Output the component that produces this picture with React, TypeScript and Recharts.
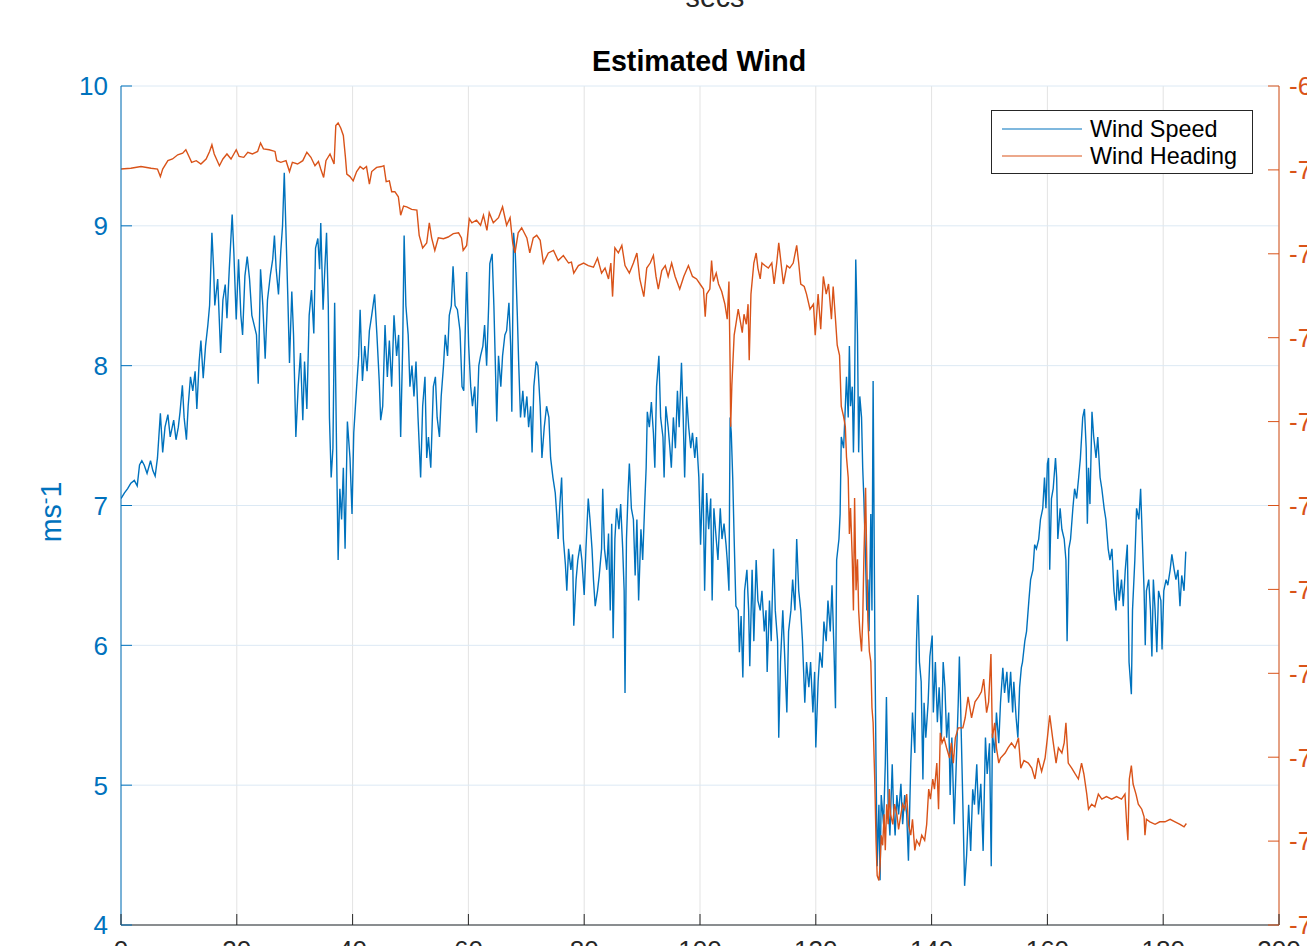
import React from 'react';
import { LineChart, Line, XAxis, YAxis, CartesianGrid, Legend } from 'recharts';

const FONT = '"Liberation Sans", Arial, Helvetica, sans-serif';
const BLUE = '#0072BD';
const ORANGE = '#D95319';
const DARK = '#262626';

const xTicks = [0, 20, 40, 60, 80, 100, 120, 140, 160, 180, 200];
const speedTicks = [4, 5, 6, 7, 8, 9, 10];
const headingTicks = [-79, -78, -77, -76, -75, -74, -73, -72, -71, -70, -69];
const seriesNames = ['Wind Speed', 'Wind Heading'];

const speedTime = [
  0, 0.6, 1.15, 1.7, 2.3, 2.8, 3.2, 3.6, 4.0, 4.5, 5.1, 5.5, 5.9, 6.3, 6.8, 7.2, 7.6, 8.1, 8.5, 9.1,
  9.5, 9.9, 10.2, 10.6, 10.9, 11.3, 11.6, 12.0, 12.4, 12.8, 13.1, 13.5, 13.8, 14.2, 14.6, 15.0, 15.3, 15.7, 16.0, 16.2,
  16.7, 17.2, 17.6, 18.0, 18.3, 18.7, 19.2, 19.5, 19.9, 20.3, 20.7, 21.0, 21.4, 21.8, 22.2, 22.6, 23.0, 23.4, 23.7, 24.1,
  24.5, 24.9, 25.3, 25.8, 26.2, 26.5, 26.8, 27.2, 27.6, 27.9, 28.2, 28.6, 28.8, 29.1, 29.5, 29.8, 30.2, 30.6, 31.0, 31.4,
  31.7, 32.1, 32.5, 32.9, 33.3, 33.6, 34.0, 34.3, 34.5, 34.9, 35.2, 35.5, 35.8, 36.0, 36.3, 36.6,
  36.9, 37.25, 37.5, 37.8, 38.1, 38.4, 38.7, 39.1, 39.55, 39.9, 40.2, 40.7, 41.05, 41.3, 41.7, 42.1, 42.5, 42.9, 43.3, 43.8,
  44.2, 44.6, 44.85, 45.2, 45.6, 46.0, 46.35, 46.75, 47.15, 47.6, 47.95, 48.3, 48.65, 48.9, 49.2, 49.6, 49.9, 50.25, 50.6, 50.95,
  51.3, 51.75, 52.1, 52.5, 52.8, 53.1, 53.5, 53.95, 54.3, 54.6, 55.0, 55.3, 55.7, 56.0, 56.4, 56.7, 57.05, 57.35, 57.7, 58.1,
  58.55, 58.9, 59.2, 59.7, 60.05, 60.4, 60.7, 61.1, 61.4, 61.8, 62.1, 62.5, 62.8, 63.15, 63.5, 63.7, 64.1, 64.4, 64.9, 65.2,
  65.6, 65.9, 66.3, 66.6, 67.0, 67.3, 67.5, 67.8, 68.1, 68.45, 68.7, 69.0, 69.4, 69.7, 70.1, 70.4, 70.75, 71.0, 71.3, 71.7, 72.0,
  72.4, 72.7, 73.1, 73.5, 73.9, 74.2, 74.6, 75.0, 75.25, 75.5, 75.8, 76.1, 76.4, 76.75, 77.0, 77.3, 77.7, 78.0, 78.2, 78.6,
  78.9, 79.3, 79.6, 80.0, 80.3, 80.7, 81.0, 81.35, 81.6, 81.9, 82.3, 82.6, 83.0, 83.2, 83.5, 83.9, 84.2, 84.5, 84.75, 85.0,
  85.3, 85.6, 86.0, 86.3, 86.65, 86.9, 87.05, 87.3, 87.6, 87.8, 88.15, 88.5, 88.8, 89.1, 89.4, 89.8, 90.1, 90.45, 90.7, 90.9,
  91.25, 91.6, 91.95, 92.2, 92.5, 92.9, 93.2, 93.6, 93.8, 94.1, 94.5, 94.8, 95.05, 95.4, 95.75, 96.1, 96.4, 96.8, 97.1, 97.35,
  97.7, 98.05, 98.4, 98.7, 99.1, 99.4, 99.8, 100.1, 100.5, 100.8, 101.15, 101.5, 101.85, 102.1, 102.4, 102.8, 103.1, 103.5, 103.8, 104.15,
  104.5, 104.7, 105.0, 105.2, 105.4, 105.65, 105.9, 106.2, 106.6, 106.8, 107.1, 107.4, 107.7, 108.1, 108.4, 108.6,
  109.0, 109.3, 109.7, 110.0, 110.4, 110.7, 111.1, 111.4, 111.6, 112.0, 112.3, 112.7, 113.0, 113.4, 113.6, 113.9, 114.3, 114.6, 115.0, 115.3,
  115.7, 116.0, 116.4, 116.7, 117.05, 117.4, 117.7, 118.1, 118.4, 118.8, 119.1, 119.5, 119.8, 120.0, 120.4, 120.7, 121.1, 121.4, 121.8, 122.1,
  122.5, 122.8, 123.15, 123.4, 123.6, 124.0, 124.2, 124.4, 124.8, 125.1, 125.3, 125.6, 125.8, 126.0, 126.3, 126.5, 126.7, 126.9, 127.2, 127.4,
  127.6, 127.9, 128.1, 128.3, 128.6, 128.8, 129.0, 129.2, 129.5, 129.7, 129.9, 130.2, 130.4, 130.6, 130.9, 131.1, 131.3, 131.7, 132.0, 132.2,
  132.5, 132.8, 133.2, 133.4, 133.7, 134.0, 134.3, 134.7, 135.0, 135.35, 135.7, 136.0, 136.4, 136.7, 137.1, 137.4, 137.65, 137.9, 138.2, 138.5,
  138.7, 139.0, 139.4, 139.7, 140.1, 140.3, 140.65, 141.0, 141.3, 141.7, 142.0, 142.3, 142.6, 142.95, 143.2, 143.5, 143.9, 144.2, 144.6, 144.8, 145.0,
  145.4, 145.7, 146.05, 146.4, 146.75, 147.1, 147.4, 147.8, 148.1, 148.5, 148.9, 149.3, 149.6, 150.0, 150.3, 150.5, 150.9, 151.2, 151.6, 151.9,
  152.3, 152.6, 153.0, 153.3, 153.65, 154.0, 154.2, 154.6, 154.9, 155.2, 155.5, 155.7, 156.1, 156.4, 156.8, 157.1, 157.5, 157.8, 158.1, 158.5,
  158.8, 159.2, 159.5, 159.75, 160.0, 160.2, 160.4, 160.7, 161.0, 161.4, 161.6, 161.8, 162.2, 162.5, 162.9, 163.2, 163.4, 163.7, 164.0, 164.4,
  164.7, 165.05, 165.4, 165.7, 166.1, 166.4, 166.7, 166.9, 167.1, 167.35, 167.7, 168.0, 168.4, 168.7, 169.1, 169.4, 169.8, 170.1, 170.5, 170.8,
  171.15, 171.5, 171.85, 172.1, 172.4, 172.8, 173.1, 173.45, 173.8, 174.1, 174.5, 174.7, 175.1, 175.4, 175.8, 176.1, 176.45, 176.7, 176.9, 177.1,
  177.5, 177.8, 178.05, 178.3, 178.6, 178.9, 179.2, 179.6, 179.8, 180.1, 180.5, 180.8, 181.2, 181.5, 181.9, 182.2, 182.55, 182.9, 183.2, 183.6, 183.9,
];

const speedValue = [
  7.05, 7.09, 7.12, 7.16, 7.18, 7.14, 7.29, 7.32, 7.29, 7.23, 7.32, 7.25, 7.21, 7.34, 7.66, 7.38, 7.56, 7.65, 7.49, 7.61,
  7.47, 7.56, 7.67, 7.86, 7.63, 7.47, 7.71, 7.92, 7.82, 7.96, 7.69, 8.03, 8.18, 7.91, 8.14, 8.29, 8.43, 8.95, 8.69, 8.43,
  8.62, 8.09, 8.47, 8.58, 8.34, 8.69, 9.08, 8.80, 8.33, 8.76, 8.36, 8.22, 8.64, 8.78, 8.62, 8.36, 8.29, 8.22, 7.87, 8.69,
  8.43, 8.05, 8.47, 8.65, 8.76, 8.93, 8.69, 8.51, 8.82, 9.0, 9.38, 8.80, 8.51, 8.02, 8.53, 8.22, 7.49, 7.85, 8.09, 7.61,
  8.03, 7.69, 8.36, 8.54, 8.23, 8.84, 8.91, 8.69, 9.02, 8.40, 8.69, 8.95, 8.43, 7.63, 7.20, 7.41,
  8.45, 7.34, 6.61, 7.12, 6.90, 7.27, 6.69, 7.60, 7.34, 6.94, 7.52, 7.85, 8.07, 8.40, 7.89, 8.14, 7.96, 8.25, 8.36, 8.51,
  8.22, 7.89, 7.61, 7.71, 8.29, 7.92, 8.18, 7.85, 8.36, 8.07, 8.22, 7.49, 8.14, 8.93, 8.43, 8.22, 7.85, 8.0, 7.78, 8.03,
  7.63, 7.20, 7.71, 7.92, 7.34, 7.49, 7.27, 7.85, 7.92, 7.63, 7.49, 7.78, 8.0, 8.22, 8.07, 8.36, 8.43, 8.71, 8.43, 8.40,
  8.25, 7.85, 7.82, 8.67, 8.14, 7.85, 7.71, 7.85, 7.52, 8.0, 8.07, 8.14, 8.29, 8.0, 8.43, 8.73, 8.80, 8.43, 7.60, 8.07,
  7.85, 8.07, 8.22, 8.25, 8.45, 8.14, 7.67, 8.95, 8.80, 8.36, 8.0, 7.63, 7.82, 7.63, 7.78, 7.56, 7.71, 7.38, 7.85, 8.03, 8.0,
  7.71, 7.34, 7.56, 7.71, 7.63, 7.34, 7.20, 7.09, 6.94, 6.76, 7.01, 7.20, 6.76, 6.58, 6.39, 6.69, 6.54, 6.65, 6.14, 6.47,
  6.61, 6.72, 6.61, 6.36, 6.69, 7.05, 6.90, 6.69, 6.47, 6.28, 6.39, 6.50, 6.69, 7.12, 6.69, 6.54, 6.80, 6.25, 6.87, 6.05,
  6.76, 6.98, 6.83, 7.01, 6.69, 6.39, 5.66, 6.76, 7.12, 7.30, 6.98, 6.90, 6.50, 6.90, 6.32, 6.83, 6.61, 7.01, 7.27, 7.67,
  7.56, 7.74, 7.52, 7.27, 7.85, 8.07, 7.63, 7.49, 7.20, 7.71, 7.56, 7.41, 7.27, 7.63, 7.41, 7.82, 7.56, 8.02, 7.63, 7.20,
  7.78, 7.56, 7.41, 7.52, 7.34, 7.49, 7.20, 6.72, 7.23, 6.39, 7.09, 6.83, 7.05, 6.32, 6.98, 6.76, 6.61, 6.98, 6.76, 6.87,
  6.72, 6.61, 6.39, 7.63, 7.52, 7.20, 6.76, 6.28, 6.25, 5.95, 6.21, 5.77, 6.39, 6.54, 6.25, 5.85,
  6.54, 6.03, 6.61, 6.32, 6.25, 6.39, 6.10, 6.25, 5.81, 6.32, 6.03, 6.69, 6.25, 6.03, 5.34, 5.88, 6.25, 5.95, 5.52, 6.10,
  6.25, 6.47, 6.25, 6.76, 6.39, 6.25, 6.03, 5.59, 5.88, 5.70, 5.88, 5.52, 5.81, 5.27, 5.74, 5.95, 5.84, 6.17, 6.03, 6.32,
  6.10, 6.43, 5.95, 5.55, 6.61, 6.76, 6.94, 7.49, 7.41, 7.71, 7.92, 7.63, 8.14, 7.71, 7.85, 7.38, 7.82, 8.76, 8.22, 7.38,
  7.78, 7.63, 7.27, 7.05, 6.61, 6.25, 6.47, 6.10, 6.94, 6.25, 7.89, 6.03, 5.15, 4.42, 4.86, 4.32, 4.93, 4.72, 5.15, 5.63,
  4.86, 4.64, 5.15, 4.86, 4.64, 4.93, 4.79, 5.01, 4.72, 4.93, 4.79, 4.46, 5.15, 5.52, 5.23, 6.03, 6.36, 5.88, 5.74, 5.04,
  5.59, 5.34, 5.59, 5.92, 6.07, 5.52, 5.88, 5.45, 5.70, 5.34, 5.88, 5.70, 5.34, 5.52, 4.93, 5.34, 4.72, 5.08, 5.59, 5.92, 5.59,
  4.86, 4.28, 4.50, 4.86, 4.53, 4.97, 4.86, 5.15, 4.79, 5.01, 4.53, 5.34, 5.08, 5.30, 4.42, 5.37, 5.23, 5.52, 5.30, 5.59,
  5.84, 5.66, 5.81, 5.59, 5.81, 5.52, 5.74, 5.48, 5.34, 5.70, 5.84, 5.88, 6.03, 6.10, 6.32, 6.47, 6.54, 6.72, 6.69, 6.76,
  6.90, 6.98, 7.20, 6.98, 7.30, 7.34, 6.54, 7.05, 7.12, 7.34, 7.20, 6.76, 6.98, 6.83, 6.76, 6.61, 6.03, 6.69, 6.76, 6.98,
  7.12, 7.05, 7.20, 7.34, 7.63, 7.69, 7.41, 6.87, 7.27, 7.01, 7.67, 7.49, 7.34, 7.49, 7.20, 7.12, 6.98, 6.90, 6.69, 6.61,
  6.69, 6.39, 6.25, 6.54, 6.32, 6.47, 6.28, 6.54, 6.72, 5.88, 5.65, 6.25, 6.61, 6.98, 6.90, 7.12, 6.69, 6.39, 6.0, 6.39,
  6.47, 6.25, 5.92, 6.47, 6.25, 5.95, 6.39, 6.32, 5.97, 6.39, 6.47, 6.43, 6.54, 6.65, 6.54, 6.47, 6.54, 6.28, 6.50, 6.39, 6.67,
];

const headingTime = [
  0, 1.7, 3.45, 5.2, 6.3, 6.8, 7.2, 8.1, 8.9, 9.8, 10.65, 11.2, 11.8, 12.2, 13.0, 13.8, 14.7, 15.3, 15.7, 16.1,
  17.0, 17.6, 18.3, 19.0, 19.9, 20.4, 21.2, 21.9, 22.7, 23.6, 24.1, 24.6, 25.6, 26.6, 26.9, 27.6, 28.5, 29.1, 29.6, 30.5,
  31.4, 32.1, 32.8, 33.5, 34.1, 34.5, 35.0, 35.4,
  36.1, 36.8, 37.1, 37.5, 37.95, 38.4, 38.75, 39.0, 39.55, 40.1, 40.7, 41.3, 41.85, 42.4, 42.9, 43.3, 44.15, 45.0, 45.4, 45.8,
  46.35, 46.75, 47.3, 47.9, 48.3, 48.8, 49.35, 50.2, 51.1, 51.5, 52.1, 52.8, 53.25, 53.65, 54.2, 54.8, 55.7, 56.5, 57.4, 58.3,
  58.8, 59.1, 59.7, 60.15, 60.6, 61.4, 62.1, 62.6, 63.2, 63.6, 64.3, 65.2, 65.9, 66.6, 67.2, 67.65, 68.05, 68.6, 69.2, 70.1,
  70.6, 71.2, 71.8,
  72.4, 72.95, 73.8, 74.7, 75.5, 76.4, 77.3, 77.8, 78.2, 79.0, 79.9, 80.7, 81.6, 82.3, 83.0, 83.6, 84.2, 84.6, 84.9, 85.3,
  85.9, 86.5, 87.05, 87.8, 88.5, 89.1, 89.6, 90.3, 90.8, 91.4, 91.95, 92.4, 92.8, 93.4, 94.0, 94.5, 95.1, 95.7, 96.5, 97.2,
  98.0, 98.7, 99.4, 100.0, 100.6, 100.9, 101.15, 101.7, 102.0, 102.3, 102.8, 103.2, 103.75, 104.3, 104.7, 105.0, 105.2, 105.3, 105.5, 105.9,
  106.2, 106.6, 106.9, 107.3, 107.6, 108.0, 108.3, 108.5, 108.8,
  109.3, 109.7, 110.0, 110.4, 110.7, 111.2, 111.8, 112.4, 112.8, 113.25, 113.6, 113.9, 114.4, 115.0, 115.5, 116.1, 116.7, 117.05, 117.4, 118.0,
  118.4, 119.0, 119.6, 119.9, 120.4, 120.85, 121.3, 121.8, 122.2, 122.7, 123.0, 123.4, 123.7, 124.1, 124.4, 124.8, 125.1, 125.3, 125.6, 125.8,
  126.0, 126.3, 126.5, 126.7, 126.95, 127.2, 127.4, 127.6, 127.9, 128.1, 128.3, 128.6, 128.8, 129.0, 129.25, 129.5, 129.7, 129.9, 130.2, 130.4,
  130.6, 130.9, 131.1, 131.3, 131.55, 131.8, 132.0, 132.25, 132.5, 132.7, 132.9, 133.3, 133.6, 134.0, 134.3, 134.7, 135.0, 135.35, 135.7, 136.0,
  136.4, 136.7, 137.1, 137.4, 137.9, 138.3, 138.8, 139.15, 139.5, 139.8, 140.2, 140.5, 140.9, 141.2, 141.5, 141.8, 142.15, 142.6, 143.1, 143.4,
  143.75, 144.1, 144.6,
  145.4, 145.8, 146.3, 146.9, 147.5, 148.1, 148.6, 149.0, 149.5, 149.85, 150.25, 150.5, 150.9, 151.2, 151.6, 151.9, 152.7, 153.2, 153.8, 154.4,
  155.0, 155.4, 155.95, 156.7, 157.3, 157.85, 158.4, 159.0, 159.6, 160.0, 160.4, 160.9, 161.5, 161.9, 162.5, 162.9, 163.2, 163.6, 164.2, 164.8,
  165.35, 165.9, 166.3, 166.8, 167.1, 167.65, 168.2, 168.8, 169.4, 170.2, 171.1, 171.95, 172.8, 173.4, 173.7, 173.9, 174.15, 174.5, 174.8, 175.3,
  175.7, 176.3, 176.7, 176.85, 177.1, 177.7, 178.6, 179.4, 180.3, 181.2, 182.05, 182.9, 183.6, 184.0,
];

const headingValue = [
  -69.99, -69.98, -69.96, -69.98, -69.99, -70.08, -69.99, -69.89, -69.87, -69.82, -69.80, -69.76, -69.85, -69.91, -69.89, -69.93, -69.87, -69.78, -69.70, -69.81,
  -69.95, -69.87, -69.81, -69.87, -69.76, -69.84, -69.85, -69.79, -69.81, -69.78, -69.68, -69.75, -69.76, -69.78, -69.89, -69.91, -69.89, -70.02, -69.91, -69.93,
  -69.89, -69.79, -69.85, -69.95, -69.90, -69.99, -70.09, -69.89,
  -69.81, -69.93, -69.47, -69.44, -69.50, -69.59, -69.84, -70.05, -70.08, -70.13, -70.02, -69.96, -69.99, -69.96, -70.17, -70.02, -69.97, -69.96, -69.95, -70.14,
  -70.13, -70.26, -70.26, -70.32, -70.54, -70.43, -70.44, -70.47, -70.48, -70.78, -70.93, -70.87, -70.63, -70.81, -70.96, -70.81, -70.82, -70.80, -70.76, -70.75,
  -70.81, -70.96, -70.90, -70.58, -70.63, -70.60, -70.66, -70.54, -70.72, -70.51, -70.63, -70.57, -70.44, -70.66, -70.57, -70.87, -70.99, -70.75, -70.69, -70.81,
  -70.99, -70.81, -70.78,
  -70.84, -71.11, -70.99, -70.96, -71.08, -71.02, -71.11, -71.10, -71.23, -71.14, -71.11, -71.14, -71.16, -71.05, -71.23, -71.17, -71.30, -71.11, -71.51, -70.93,
  -70.99, -70.90, -71.14, -71.23, -71.11, -70.99, -71.30, -71.51, -71.17, -71.11, -71.02, -71.27, -71.42, -71.20, -71.14, -71.27, -71.11, -71.27, -71.42, -71.27,
  -71.14, -71.27, -71.30, -71.36, -71.42, -71.75, -71.48, -71.42, -71.08, -71.33, -71.23, -71.36, -71.45, -71.60, -71.78, -71.33, -72.33, -73.06, -72.57, -71.97,
  -71.84, -71.66, -71.78, -71.94, -71.72, -71.84, -71.60, -72.27, -71.48,
  -71.11, -70.99, -71.17, -71.30, -71.11, -71.14, -71.17, -71.11, -71.36, -71.11, -70.87, -71.05, -71.36, -71.14, -71.17, -71.11, -70.90, -71.11, -71.36, -71.39,
  -71.48, -71.66, -71.60, -71.97, -71.48, -71.90, -71.27, -71.48, -71.36, -71.78, -71.39, -71.78, -72.09, -72.21, -72.82, -72.94, -73.06, -73.42, -73.67, -74.34,
  -74.03, -74.64, -75.25, -73.91, -75.01, -74.64, -75.25, -75.49, -75.74, -75.37, -74.64, -73.79, -74.64, -75.37, -75.74, -75.86, -76.41, -76.59, -77.32, -77.99,
  -78.41, -78.47, -78.29, -77.93, -78.05, -77.68, -78.11, -77.56, -77.80, -77.38, -77.68, -77.80, -77.56, -77.68, -77.86, -77.68, -77.56, -77.62, -77.44, -77.80,
  -77.93, -77.74, -78.11, -77.99, -78.05, -77.93, -77.99, -77.80, -77.38, -77.50, -77.26, -77.38, -77.07, -77.62, -76.71, -76.83, -76.77, -76.89, -77.01, -76.83,
  -77.07, -76.77, -76.65,
  -76.65, -76.53, -76.28, -76.53, -76.34, -76.28, -76.22, -76.07, -76.47, -76.34, -75.77, -76.77, -76.59, -76.89, -77.07, -77.01, -76.95, -76.89, -76.83, -76.89,
  -76.77, -77.13, -77.04, -77.07, -77.13, -77.26, -77.01, -77.17, -77.01, -76.77, -76.50, -76.77, -77.07, -76.89, -76.95, -76.83, -76.59, -77.07, -77.13, -77.20,
  -77.26, -77.07, -77.20, -77.44, -77.62, -77.56, -77.59, -77.44, -77.50, -77.47, -77.50, -77.47, -77.50, -77.44, -77.80, -77.99, -77.26, -77.10, -77.32, -77.44,
  -77.56, -77.62, -77.71, -77.93, -77.74, -77.77, -77.80, -77.77, -77.77, -77.74, -77.77, -77.80, -77.83, -77.79,
];

const speedSeries = speedTime.map((t, i) => ({ t, v: speedValue[i] }));
const headingSeries = headingTime.map((t, i) => ({ t, v: headingValue[i] }));

const TICK_LEN = 11;

const BottomTick = (props: any) => {
  const { x, y, payload } = props;
  return (
    <g>
      <line x1={x} y1={y} x2={x} y2={y - TICK_LEN} stroke={DARK} strokeWidth={1} />
      <text x={x} y={y + 34} textAnchor="middle" fill={DARK} fontSize={26} fontFamily={FONT}>
        {payload.value}
      </text>
    </g>
  );
};

const TopTick = (props: any) => {
  const { x, y } = props;
  return <line x1={x} y1={y} x2={x} y2={y + TICK_LEN} stroke={DARK} strokeWidth={1} />;
};

const LeftTick = (props: any) => {
  const { x, y, payload } = props;
  return (
    <g>
      <line x1={x} y1={y} x2={x + TICK_LEN} y2={y} stroke={BLUE} strokeWidth={1} />
      <text x={x - 13} y={y} dy="0.36em" textAnchor="end" fill={BLUE} fontSize={26} fontFamily={FONT}>
        {payload.value}
      </text>
    </g>
  );
};

const RightTick = (props: any) => {
  const { x, y, payload } = props;
  return (
    <g>
      <line x1={x} y1={y} x2={x - TICK_LEN} y2={y} stroke={ORANGE} strokeWidth={1} />
      <text x={x + 10} y={y} dy="0.36em" textAnchor="start" fill={ORANGE} fontSize={26} fontFamily={FONT}>
        {payload.value}
      </text>
    </g>
  );
};

const renderLegend = (props: any) => {
  const items = [...(props.payload || [])].sort(
    (a: any, b: any) => seriesNames.indexOf(a.value) - seriesNames.indexOf(b.value)
  );
  return (
    <svg width={262} height={64} style={{ display: 'block' }}>
      <rect x={0.5} y={0.5} width={261} height={63} fill="#ffffff" stroke={DARK} strokeWidth={1} />
      {items.map((it: any, i: number) => (
        <g key={i}>
          <line x1={11} x2={91} y1={19 + 27 * i} y2={19 + 27 * i} stroke={it.color} strokeWidth={1.2} />
          <text x={99} y={27.4 + 27 * i} fontSize={23.4} fill="#000000" fontFamily={FONT}>
            {it.value}
          </text>
        </g>
      ))}
    </svg>
  );
};

export default function App() {
  return (
    <div
      style={{
        position: 'fixed',
        left: 0,
        top: 0,
        width: 1307,
        height: 946,
        overflow: 'hidden',
        background: '#ffffff',
        fontFamily: FONT,
      }}
    >
      <LineChart width={1400} height={1000} margin={{ top: 86, left: 61, right: 61, bottom: 35 }}>
        <CartesianGrid xAxisId="bottom" yAxisId="left" horizontal={false} stroke="#e3e3e3" strokeWidth={1} />
        <CartesianGrid xAxisId="bottom" yAxisId="left" vertical={false} stroke="#dce9f4" strokeWidth={1} />
        <XAxis
          xAxisId="bottom"
          dataKey="t"
          type="number"
          domain={[0, 200]}
          ticks={xTicks}
          interval={0}
          allowDataOverflow
          orientation="bottom"
          height={40}
          tickSize={0}
          tickMargin={0}
          tickLine={false}
          axisLine={{ stroke: DARK, strokeWidth: 1 }}
          tick={BottomTick}
        />
        <XAxis
          xAxisId="top"
          dataKey="t"
          type="number"
          domain={[0, 200]}
          ticks={xTicks}
          interval={0}
          allowDataOverflow
          orientation="top"
          height={0}
          tickSize={0}
          tickMargin={0}
          tickLine={false}
          axisLine={{ stroke: DARK, strokeWidth: 1 }}
          tick={TopTick}
        />
        <YAxis
          yAxisId="left"
          orientation="left"
          type="number"
          domain={[4, 10]}
          ticks={speedTicks}
          interval={0}
          allowDataOverflow
          width={60}
          tickSize={0}
          tickMargin={0}
          tickLine={false}
          axisLine={{ stroke: BLUE, strokeWidth: 1 }}
          tick={LeftTick}
        />
        <YAxis
          yAxisId="right"
          orientation="right"
          type="number"
          domain={[-79, -69]}
          ticks={headingTicks}
          interval={0}
          allowDataOverflow
          width={60}
          tickSize={0}
          tickMargin={0}
          tickLine={false}
          axisLine={{ stroke: ORANGE, strokeWidth: 1 }}
          tick={RightTick}
        />
        <Legend
          layout="vertical"
          align="center"
          verticalAlign="middle"
          wrapperStyle={{ left: 991, top: 110, width: 262, height: 64 }}
          content={renderLegend}
        />
        <Line
          xAxisId="bottom"
          yAxisId="left"
          data={speedSeries}
          dataKey="v"
          name={seriesNames[0]}
          type="linear"
          stroke={BLUE}
          strokeWidth={1.4}
          dot={false}
          activeDot={false}
          isAnimationActive={false}
        />
        <Line
          xAxisId="bottom"
          yAxisId="right"
          data={headingSeries}
          dataKey="v"
          name={seriesNames[1]}
          type="linear"
          stroke={ORANGE}
          strokeWidth={1.4}
          dot={false}
          activeDot={false}
          isAnimationActive={false}
        />
      </LineChart>
      <svg
        width={1307}
        height={946}
        style={{ position: 'absolute', left: 0, top: 0, pointerEvents: 'none' }}
      >
        <text x={715} y={7} textAnchor="middle" fontSize={28.6} fill={DARK} fontFamily={FONT}>
          secs
        </text>
        <text x={699} y={71} textAnchor="middle" fontSize={28.6} fontWeight="bold" fill="#000000" fontFamily={FONT}>
          Estimated Wind
        </text>
        <text
          transform="translate(61,512) rotate(-90)"
          textAnchor="middle"
          fontSize={28.6}
          fill={BLUE}
          fontFamily={FONT}
        >
          ms
          <tspan fontSize={20} dy={-9}>-</tspan>
          <tspan fontSize={28.6} dy={9}>1</tspan>
        </text>
      </svg>
    </div>
  );
}
